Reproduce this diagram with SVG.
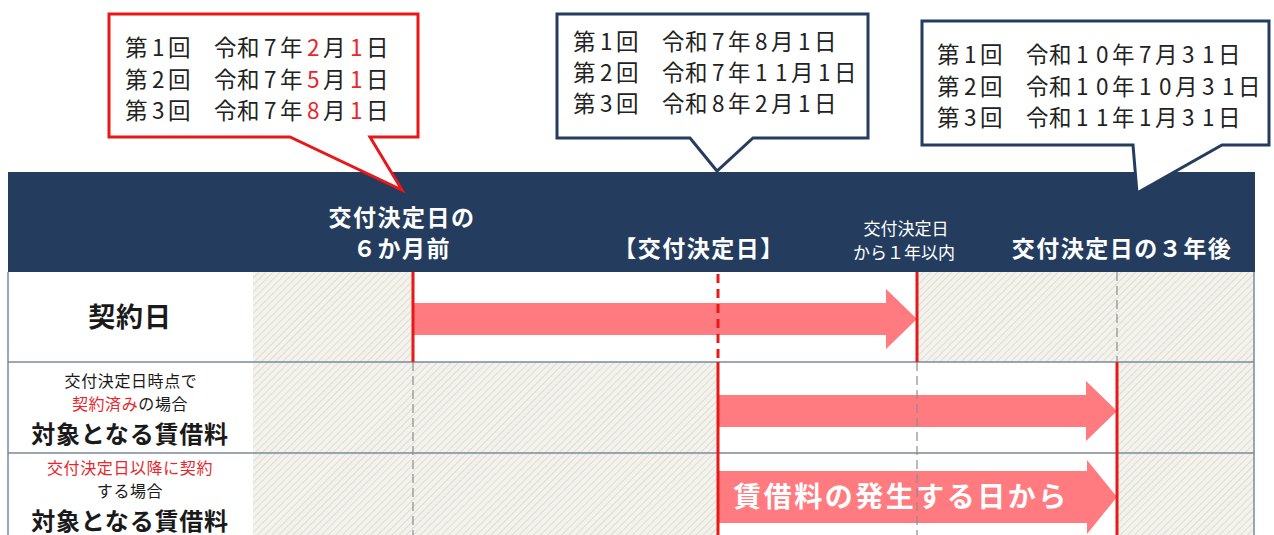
<svg xmlns="http://www.w3.org/2000/svg" width="1274" height="535" viewBox="0 0 1274 535">
<style>
text{font-family:"Noto Sans CJK JP","Noto Sans",sans-serif;}
.call{font-size:22.5px;fill:#222;}
.red{fill:#e8262b;}
.hd{font-size:23px;fill:#fff;font-weight:700;text-anchor:middle;letter-spacing:1.5px;font-variant-east-asian:full-width;}
.hs{font-size:17px;fill:#fff;text-anchor:middle;font-variant-east-asian:full-width;}
.lb{font-size:24px;fill:#1a1a1a;font-weight:700;text-anchor:middle;letter-spacing:0.8px;}
.ls{font-size:16px;fill:#1a1a1a;text-anchor:middle;letter-spacing:0.6px;}
.grid{stroke:#7e899a;stroke-width:1.5;fill:none;}
.rl{stroke:#e81818;stroke-width:3;fill:none;}
.rd{stroke:#e81818;stroke-width:3;stroke-dasharray:9 6;fill:none;}
.gd{stroke:#8c8c8c;stroke-width:1.2;stroke-dasharray:9 5;fill:none;}
.arrow{fill:#ff7b7f;}
</style>
<defs>
<pattern id="hatch" width="5" height="5" patternUnits="userSpaceOnUse" patternTransform="rotate(45)">
<rect width="5" height="5" fill="#f3f2ec"/>
<line x1="0" y1="0" x2="0" y2="5" stroke="#d9d6ca" stroke-width="1.5"/>
</pattern>
</defs>
<rect width="1274" height="535" fill="#fff"/>

<g id="header">
<rect x="8" y="172" width="1247" height="100" fill="#243d5e"/>
<text class="hd" x="402" y="226">交付決定日の</text>
<text class="hd" x="402" y="257">6か月前</text>
<text class="hd" x="699" y="257">【交付決定日】</text>
<text class="hs" x="906" y="235">交付決定日</text>
<text class="hs" x="904" y="259">から1年以内</text>
<text class="hd" x="1122" y="257">交付決定日の3年後</text>
</g>

<g id="grid-bg">
<rect x="253" y="272" width="160" height="90" fill="url(#hatch)"/>
<rect x="917" y="272" width="337" height="90" fill="url(#hatch)"/>
<rect x="253" y="362" width="465" height="173" fill="url(#hatch)"/>
<rect x="1117" y="362" width="137" height="173" fill="url(#hatch)"/>
<path class="grid" d="M8,272 V535 M1254,272 V535 M8,362 H1254 M8,453 H1254"/>
</g>

<g id="row-keiyakubi">
<text class="lb" x="130" y="327" style="font-size:27px">契約日</text>
</g>
<g id="row-keiyakuzumi">
<text class="ls" x="131" y="387">交付決定日時点で</text>
<text class="ls" x="130" y="410"><tspan class="red">契約済み</tspan>の場合</text>
<text class="lb" x="130" y="443">対象となる賃借料</text>
</g>
<g id="row-igo">
<text class="ls" x="130" y="474"><tspan class="red">交付決定日以降に契約</tspan></text>
<text class="ls" x="130" y="497">する場合</text>
<text class="lb" x="130" y="530">対象となる賃借料</text>
</g>

<g id="connectors">
<path class="arrow" d="M413,303 H886 V289 L917,319 L886,349 V335 H413 Z"/>
<path class="arrow" d="M718,395 H1086 V381 L1117,411 L1086,441 V427 H718 Z"/>
<path class="arrow" d="M718,471 H1087 V460 L1117,497 L1087,534 V523 H718 Z"/>
<text x="901" y="507" style="font-size:28px;fill:#fff;font-weight:700;text-anchor:middle;letter-spacing:2.5px">賃借料の発生する日から</text>
<path class="rl" d="M413,272 V362"/>
<path class="gd" d="M413,362 V535"/>
<path class="rd" d="M718,274 V362"/>
<path class="rl" d="M718,362 V535"/>
<path class="rl" d="M917,272 V362"/>
<path class="gd" d="M917,362 V535"/>
<path class="gd" d="M1117,272 V362"/>
<path class="rl" d="M1117,362 V535"/>
</g>

<g id="callout-1">
<path d="M109,14 H418 V137 H370 L402,190 L290,137 H109 Z" fill="#fff" stroke="#e81818" stroke-width="3"/>
<text class="call" y="56" x="125 152 168 191 214 237 264 280 307 323 350 366">第1回　令和7年<tspan class="red">2</tspan>月<tspan class="red">1</tspan>日</text>
<text class="call" y="88" x="125 152 168 191 214 237 264 280 307 323 350 366">第2回　令和7年<tspan class="red">5</tspan>月<tspan class="red">1</tspan>日</text>
<text class="call" y="119" x="125 152 168 191 214 237 264 280 307 323 350 366">第3回　令和7年<tspan class="red">8</tspan>月<tspan class="red">1</tspan>日</text>
</g>

<g id="callout-2">
<path d="M557,14 H868 V138 H753 L717,171 L690,138 H557 Z" fill="#fff" stroke="#243d5e" stroke-width="3"/>
<text class="call" y="50" x="573 600 616 639 662 685 712 728 755 771 798 814">第1回　令和7年8月1日</text>
<text class="call" y="81" x="573 600 616 639 662 685 712 728 755 775 791 818 834">第2回　令和7年11月1日</text>
<text class="call" y="112" x="573 600 616 639 662 685 712 728 755 771 798 814">第3回　令和8年2月1日</text>
</g>

<g id="callout-3">
<path d="M922,21 H1269 V145 H1222 L1137,193 L1133,145 H922 Z" fill="#fff" stroke="#243d5e" stroke-width="3"/>
<text class="call" y="63" x="937 964 980 1003 1026 1049 1076 1096 1112 1139 1155 1182 1202 1218">第1回　令和10年7月31日</text>
<text class="call" y="95" x="937 964 980 1003 1026 1049 1076 1096 1112 1139 1159 1175 1202 1222 1238">第2回　令和10年10月31日</text>
<text class="call" y="126" x="937 964 980 1003 1026 1049 1076 1096 1112 1139 1155 1182 1202 1218">第3回　令和11年1月31日</text>
</g>
</svg>
